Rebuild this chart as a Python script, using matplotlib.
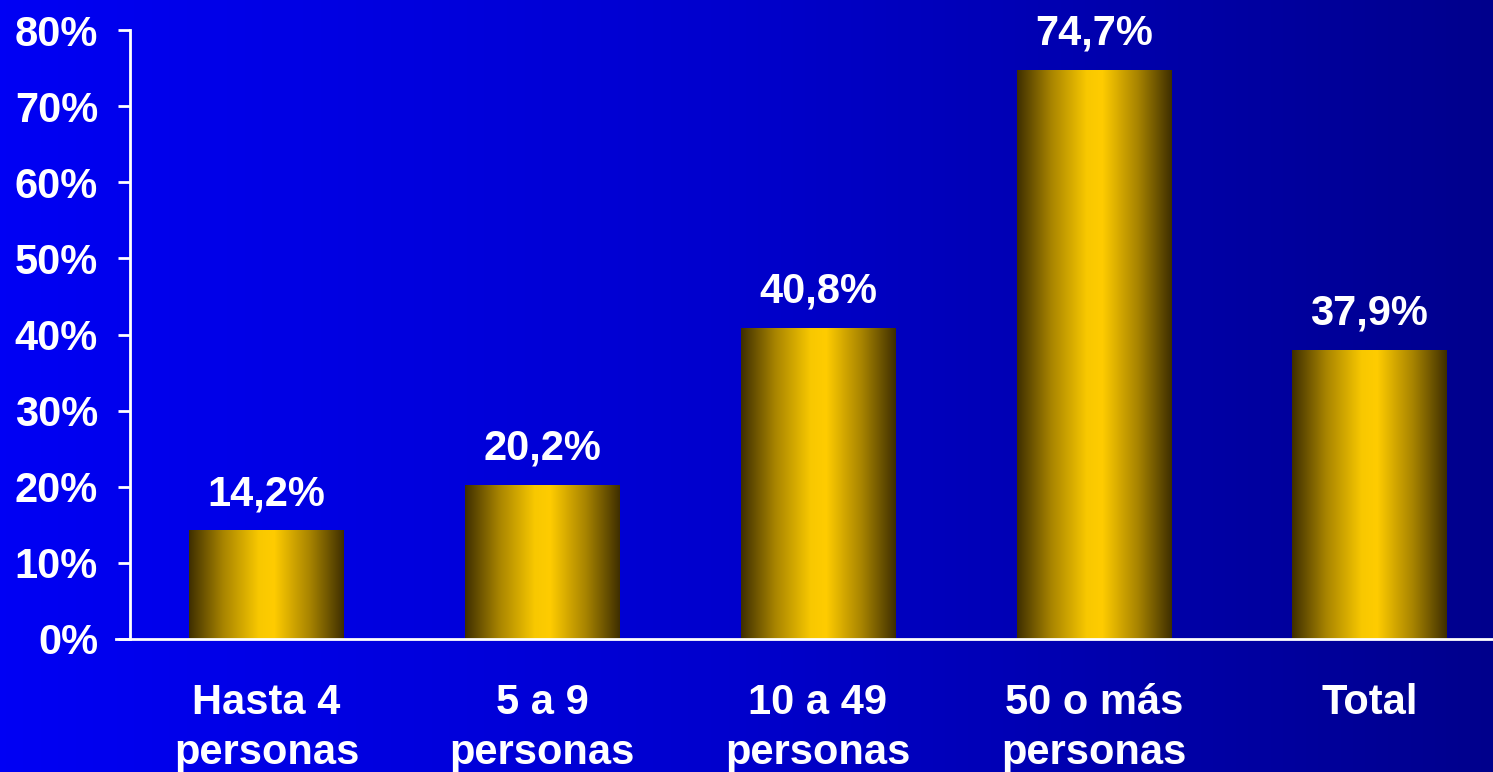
import matplotlib
matplotlib.use("Agg")
import matplotlib.pyplot as plt
import numpy as np
from matplotlib.colors import LinearSegmentedColormap

categories = ["Hasta 4\npersonas", "5 a 9\npersonas", "10 a 49\npersonas", "50 o más\npersonas", "Total"]
values = [14.2, 20.2, 40.8, 74.7, 37.9]
labels = ["14,2%", "20,2%", "40,8%", "74,7%", "37,9%"]
yticks = [0, 10, 20, 30, 40, 50, 60, 70, 80]

plt.rcParams['font.family'] = ['Liberation Sans', 'DejaVu Sans']
plt.rcParams['font.weight'] = 'bold'

fig = plt.figure(figsize=(14.93, 7.72), dpi=100)

# background gradient, bright blue left to navy right
bg = fig.add_axes([0, 0, 1, 1])
bg_cmap = LinearSegmentedColormap.from_list("bg", ["#0000f4", "#0000cc", "#00008c"])
bg.imshow(np.linspace(0, 1, 256).reshape(1, -1), aspect='auto', cmap=bg_cmap,
          extent=[0, 1, 0, 1])
bg.set_axis_off()

W, H = 1493, 772
ax = fig.add_axes([130 / W, 1 - 639 / H, (W - 130) / W, (639 - 30) / H])
ax.patch.set_alpha(0)

x = np.arange(len(categories))
bars = ax.bar(x, values, width=0.56, color='none', edgecolor='none')

bar_cmap = LinearSegmentedColormap.from_list(
    "gold", [(0.0, "#3f2f00"), (0.22, "#a88400"), (0.45, "#f8c800"),
             (0.55, "#ffcc00"), (0.78, "#a88400"), (1.0, "#3f2f00")])
grad = np.linspace(0, 1, 256).reshape(1, -1)
for b in bars:
    x0, w, h = b.get_x(), b.get_width(), b.get_height()
    ax.imshow(grad, aspect='auto', cmap=bar_cmap,
              extent=[x0, x0 + w, 0, h], zorder=2)

for xi, v, lab in zip(x, values, labels):
    ax.annotate(lab, (xi, v), xytext=(0, 12), textcoords='offset points',
                ha='center', va='bottom', color='white', fontsize=30,
                fontweight='bold')

ax.set_xlim(-0.495, 4.448)
ax.set_ylim(0, 80)
ax.set_yticks(yticks)
ax.set_yticklabels([f"{t}%" for t in yticks])
ax.set_xticks(x)
ax.set_xticklabels(categories, linespacing=1.3)

for s in ['top', 'right']:
    ax.spines[s].set_visible(False)
ax.spines['left'].set_color('white')
ax.spines['bottom'].set_color('white')
ax.spines['left'].set_linewidth(2)
ax.spines['bottom'].set_linewidth(2)
ax.spines['bottom'].set_bounds(-0.545, 4.448)

ax.tick_params(axis='y', colors='white', labelsize=30, length=9, width=2, pad=14)
ax.tick_params(axis='x', colors='white', labelsize=30, length=0, pad=32)
for t in ax.get_xticklabels() + ax.get_yticklabels():
    t.set_fontweight('bold')

fig.savefig("out.png", dpi=100)
